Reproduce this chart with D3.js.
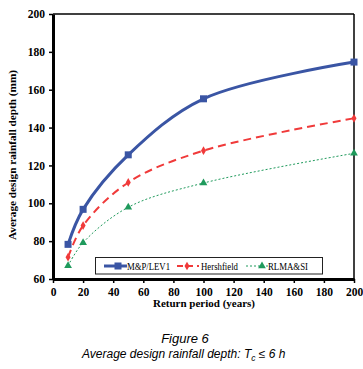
<!DOCTYPE html>
<html>
<head>
<meta charset="utf-8">
<script src="https://cdn.jsdelivr.net/npm/d3@7"></script>
<style>
  body { margin: 0; background: #fff; }
  svg { display: block; }
</style>
</head>
<body>
<div id="chart"></div>
<script>
const returnPeriods = [10, 20, 50, 100, 200];
const mpLev1 = [78.3, 96.8, 125.6, 155.2, 174.6];
const hershfield = [71.5, 88.2, 111, 127.8, 144.9];
const rlmaSi = [67, 79.2, 97.9, 110.7, 126.4];
const xTicks = [0, 20, 40, 60, 80, 100, 120, 140, 160, 180, 200];
const yTicks = [60, 80, 100, 120, 140, 160, 180, 200];

const margin = {top: 14, right: 9, bottom: 90, left: 53};
const W = 363, H = 369;
const width = W - margin.left - margin.right;
const height = H - margin.top - margin.bottom;

const svg = d3.select("#chart").append("svg")
    .attr("width", W).attr("height", H);
const g = svg.append("g")
    .attr("transform", "translate(" + margin.left + "," + margin.top + ")");

const x = d3.scaleLinear().domain([0, 200]).range([0, width]);
const y = d3.scaleLinear().domain([60, 200]).range([height, 0]);

const serif = "'Liberation Serif', 'Times New Roman', serif";
const sans = "'Liberation Sans', Arial, sans-serif";

// frame top/right
g.append("line").attr("x1", 0).attr("x2", width).attr("y1", 0).attr("y2", 0)
    .attr("stroke", "#000").attr("stroke-width", 1.5);
g.append("line").attr("x1", width).attr("x2", width).attr("y1", 0).attr("y2", height)
    .attr("stroke", "#000").attr("stroke-width", 1.5);

// axes
const xAxis = g.append("g")
    .attr("transform", "translate(0," + height + ")")
    .call(d3.axisBottom(x).tickValues(xTicks).tickSize(4).tickSizeOuter(0));
const yAxis = g.append("g")
    .call(d3.axisLeft(y).tickValues(yTicks).tickSize(4).tickSizeOuter(0));
[xAxis, yAxis].forEach(a => {
    a.select(".domain").attr("stroke", "#000").attr("stroke-width", 3);
    a.selectAll(".tick line").attr("stroke", "#000").attr("stroke-width", 1.5);
    a.selectAll(".tick text").attr("font-family", serif).attr("font-weight", "bold")
        .attr("font-size", 11.5).attr("fill", "#000");
});
xAxis.selectAll(".tick text").attr("dy", "1em").attr("y", 5);
yAxis.selectAll(".tick text").attr("x", -8);

const series = [
    {name: "M&P/LEV1", values: mpLev1, color: "#3a55a4", width: 3, dash: null, marker: "square",
     leg: [104, 127, 118, 127, 43]},
    {name: "Hershfield", values: hershfield, color: "#f03a3a", width: 2, dash: "8,5", marker: "plus",
     leg: [177, 199, 187, 201, 37]},
    {name: "RLMA&SI", values: rlmaSi, color: "#1f9a5c", width: 1, dash: "2,2", marker: "triangle",
     leg: [246, 268, 262, 268, 40]}
];

const line = d3.line()
    .x((d, i) => x(returnPeriods[i]))
    .y(d => y(d))
    .curve(d3.curveCatmullRom.alpha(0.5));

function drawMarker(sel, type, color) {
    if (type === "square") {
        sel.append("rect").attr("x", -3.5).attr("y", -3.5).attr("width", 7).attr("height", 7)
            .attr("fill", color);
    } else if (type === "plus") {
        sel.append("path").attr("d", d3.symbol(d3.symbolDiamond, 22)())
            .attr("fill", color);
    } else {
        sel.append("path").attr("d", d3.symbol(d3.symbolTriangle, 26)())
            .attr("fill", color);
    }
}

series.forEach(s => {
    g.append("path")
        .datum(s.values)
        .attr("fill", "none")
        .attr("stroke", s.color)
        .attr("stroke-width", s.width)
        .attr("stroke-dasharray", s.dash)
        .attr("d", line);
    g.selectAll(null)
        .data(s.values)
        .enter().append("g")
        .attr("transform", (d, i) => "translate(" + x(returnPeriods[i]) + "," + y(d) + ")")
        .each(function () { drawMarker(d3.select(this), s.marker, s.color); });
});

// legend
const legend = svg.append("g");
legend.append("rect").attr("x", 95.5).attr("y", 257.5).attr("width", 227).attr("height", 16.5)
    .attr("fill", "#fff").attr("stroke", "#222").attr("stroke-width", 1);
series.forEach(s => {
    const [x1, x2, mx, tx, tw] = s.leg;
    const cy = 266;
    legend.append("line").attr("x1", x1).attr("x2", x2).attr("y1", cy).attr("y2", cy)
        .attr("stroke", s.color).attr("stroke-width", s.width)
        .attr("stroke-dasharray", s.dash === "8,5" ? "6,4" : s.dash);
    const m = legend.append("g").attr("transform", "translate(" + mx + "," + cy + ")");
    drawMarker(m, s.marker, s.color);
    legend.append("text").attr("x", tx).attr("y", cy + 4)
        .attr("font-family", serif).attr("font-size", 11).attr("fill", "#000")
        .attr("textLength", tw).attr("lengthAdjust", "spacingAndGlyphs")
        .text(s.name);
});

// axis titles
svg.append("text")
    .attr("transform", "translate(16,155) rotate(-90)")
    .attr("text-anchor", "middle")
    .attr("font-family", serif).attr("font-weight", "bold").attr("font-size", 11)
    .attr("textLength", 170).attr("lengthAdjust", "spacingAndGlyphs")
    .text("Average design rainfall depth (mm)");
svg.append("text")
    .attr("x", 204).attr("y", 307)
    .attr("text-anchor", "middle")
    .attr("font-family", serif).attr("font-weight", "bold").attr("font-size", 11)
    .text("Return period (years)");

// caption
svg.append("text")
    .attr("x", 185).attr("y", 343)
    .attr("text-anchor", "middle")
    .attr("font-family", sans).attr("font-style", "italic").attr("font-size", 13)
    .text("Figure 6");
const cap = svg.append("text")
    .attr("x", 82).attr("y", 358)
    .attr("font-family", sans).attr("font-style", "italic").attr("font-size", 12);
cap.append("tspan").text("Average design rainfall depth: T");
cap.append("tspan").attr("font-size", 8.5).attr("dy", 3).text("c");
cap.append("tspan").attr("dy", -3).text(" \u2264 6 h");
</script>
</body>
</html>
